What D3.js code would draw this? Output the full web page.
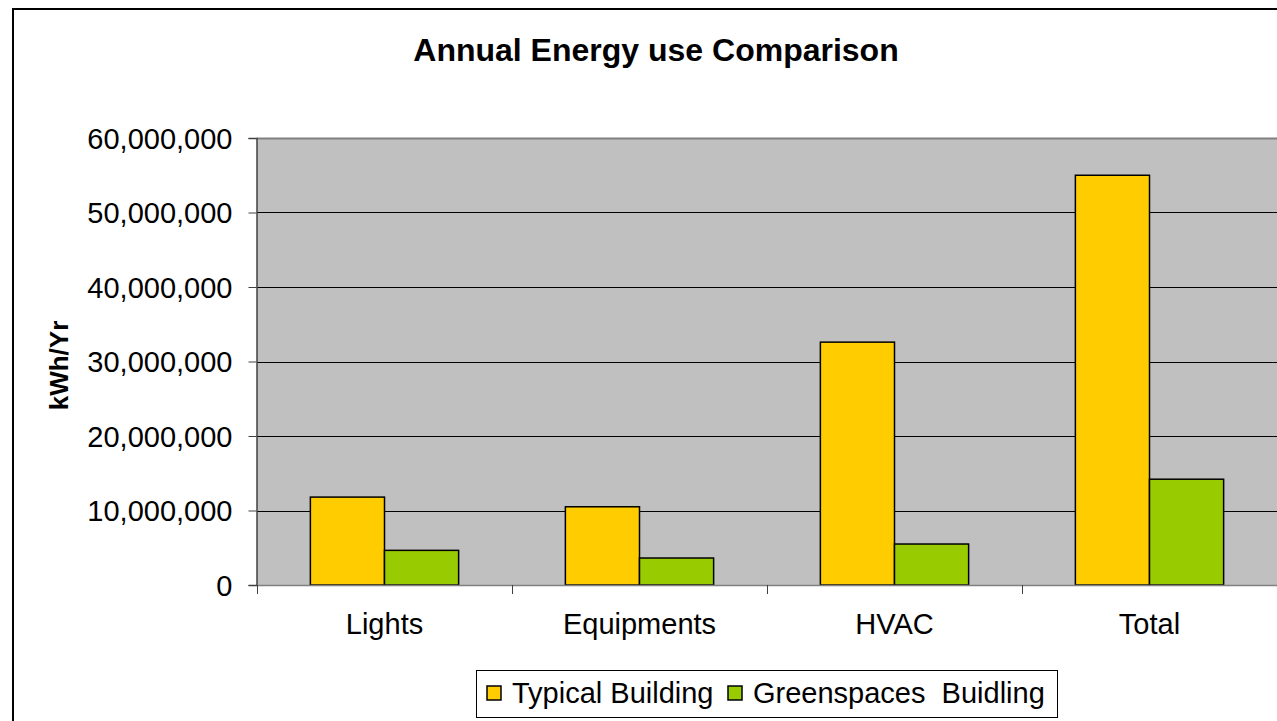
<!DOCTYPE html>
<html>
<head>
<meta charset="utf-8">
<script src="https://cdn.jsdelivr.net/npm/d3@7"></script>
<style>
  body { margin: 0; background: #fff; }
  svg { display: block; font-family: Arial, "Liberation Sans", sans-serif; }
</style>
</head>
<body>
<svg id="chart" width="1277" height="721"></svg>
<script>
var categories = ["Lights", "Equipments", "HVAC", "Total"],
    seriesNames = ["Typical Building", "Greenspaces  Buidling"],
    typical = [11800000, 10500000, 32600000, 55000000],
    greenspaces = [4650000, 3620000, 5500000, 14200000],
    yTicks = [0, 10000000, 20000000, 30000000, 40000000, 50000000, 60000000],
    colors = ["#FFCC00", "#99CC00"];

var svg = d3.select("#chart"),
    margin = {top: 138, right: 0, bottom: 136, left: 257},
    width = +svg.attr("width") - margin.left - margin.right,
    height = +svg.attr("height") - margin.top - margin.bottom;

// outer chart frame (right/bottom run off the page)
svg.append("rect")
    .attr("x", 13).attr("y", 9)
    .attr("width", 1300).attr("height", 760)
    .attr("fill", "none")
    .attr("stroke", "#000")
    .attr("stroke-width", 2);

svg.append("text")
    .attr("x", 656).attr("y", 61)
    .attr("text-anchor", "middle")
    .style("font-size", "32px")
    .style("font-weight", "bold")
    .text("Annual Energy use Comparison");

var g = svg.append("g").attr("transform", "translate(" + margin.left + "," + margin.top + ")");

var x = d3.scaleBand().domain(categories).range([0, width]).padding(0),
    xs = d3.scaleBand().domain(d3.range(seriesNames.length)).range([0, x.bandwidth()])
      .paddingInner(0).paddingOuter(0.72),
    y = d3.scaleLinear().domain([0, 60000000]).range([height, 0]);

// plot area
g.append("rect")
    .attr("width", width).attr("height", height)
    .attr("fill", "#C0C0C0");
g.append("line")
    .attr("x1", 0).attr("x2", width)
    .attr("y1", 0.5).attr("y2", 0.5)
    .attr("stroke", "#808080").attr("stroke-width", 2);

// gridlines
g.append("g")
  .selectAll("line")
  .data(yTicks.filter(function (d) { return d > 0 && d < 60000000; }))
  .enter().append("line")
    .attr("x1", 0).attr("x2", width)
    .attr("y1", function (d) { return Math.round(y(d)) + 0.5; })
    .attr("y2", function (d) { return Math.round(y(d)) + 0.5; })
    .attr("stroke", "#000").attr("stroke-width", 1);

// bars
var groups = g.selectAll(".cat")
  .data(categories)
  .enter().append("g")
    .attr("class", "cat")
    .attr("transform", function (d) { return "translate(" + x(d) + ",0)"; });

groups.selectAll("rect")
  .data(function (d, i) { return [typical[i], greenspaces[i]]; })
  .enter().append("rect")
    .attr("x", function (d, j) { return xs(j); })
    .attr("y", function (d) { return y(d); })
    .attr("width", xs.bandwidth())
    .attr("height", function (d) { return height - y(d); })
    .attr("fill", function (d, j) { return colors[j]; })
    .attr("stroke", "#000")
    .attr("stroke-width", 1.5);

// y axis
var yAxis = g.append("g")
    .attr("transform", "translate(-0.5,0)")
    .call(d3.axisLeft(y).tickValues(yTicks).tickSize(8).tickPadding(16)
      .tickFormat(d3.format(",")));
yAxis.select(".domain").attr("stroke", "#404040").attr("stroke-width", 1.5);
yAxis.selectAll(".tick line").attr("stroke", "#404040");
yAxis.selectAll("text").style("font-size", "29px").attr("fill", "#000").attr("dy", "0.35em");

// x axis
var xAxis = g.append("g")
    .attr("transform", "translate(0," + height + ")");
xAxis.append("line")
    .attr("x1", 0).attr("x2", width)
    .attr("y1", 0.5).attr("y2", 0.5)
    .attr("stroke", "#808080").attr("stroke-width", 1.5);
xAxis.selectAll(".xt")
  .data(categories)
  .enter().append("line")
    .attr("class", "xt")
    .attr("x1", function (d) { return x(d) + 0.5; })
    .attr("x2", function (d) { return x(d) + 0.5; })
    .attr("y1", 0).attr("y2", 9)
    .attr("stroke", "#404040");
xAxis.selectAll(".xl")
  .data(categories)
  .enter().append("text")
    .attr("class", "xl")
    .attr("x", function (d) { return x(d) + x.bandwidth() / 2; })
    .attr("y", 49)
    .attr("text-anchor", "middle")
    .style("font-size", "29px")
    .text(function (d) { return d; });

// y axis title
svg.append("text")
    .attr("transform", "translate(68," + (margin.top + height / 2 + 4) + ") rotate(-90)")
    .attr("text-anchor", "middle")
    .style("font-size", "26px")
    .style("font-weight", "bold")
    .text("kWh/Yr");

// legend
var legend = svg.append("g").attr("transform", "translate(476,670)");
legend.append("rect")
    .attr("x", 0.5).attr("y", 0.5)
    .attr("width", 581).attr("height", 47)
    .attr("fill", "#fff").attr("stroke", "#000");
var itemX = [11, 252];
var items = legend.selectAll(".li")
  .data(seriesNames)
  .enter().append("g")
    .attr("class", "li")
    .attr("transform", function (d, i) { return "translate(" + itemX[i] + ",0)"; });
items.append("rect")
    .attr("x", 0).attr("y", 16)
    .attr("width", 14).attr("height", 14)
    .attr("fill", function (d, i) { return colors[i]; })
    .attr("stroke", "#000").attr("stroke-width", 1.5);
items.append("text")
    .attr("x", 25).attr("y", 33)
    .style("font-size", "29px")
    .style("white-space", "pre")
    .attr("xml:space", "preserve")
    .text(function (d) { return d; });
</script>
</body>
</html>
